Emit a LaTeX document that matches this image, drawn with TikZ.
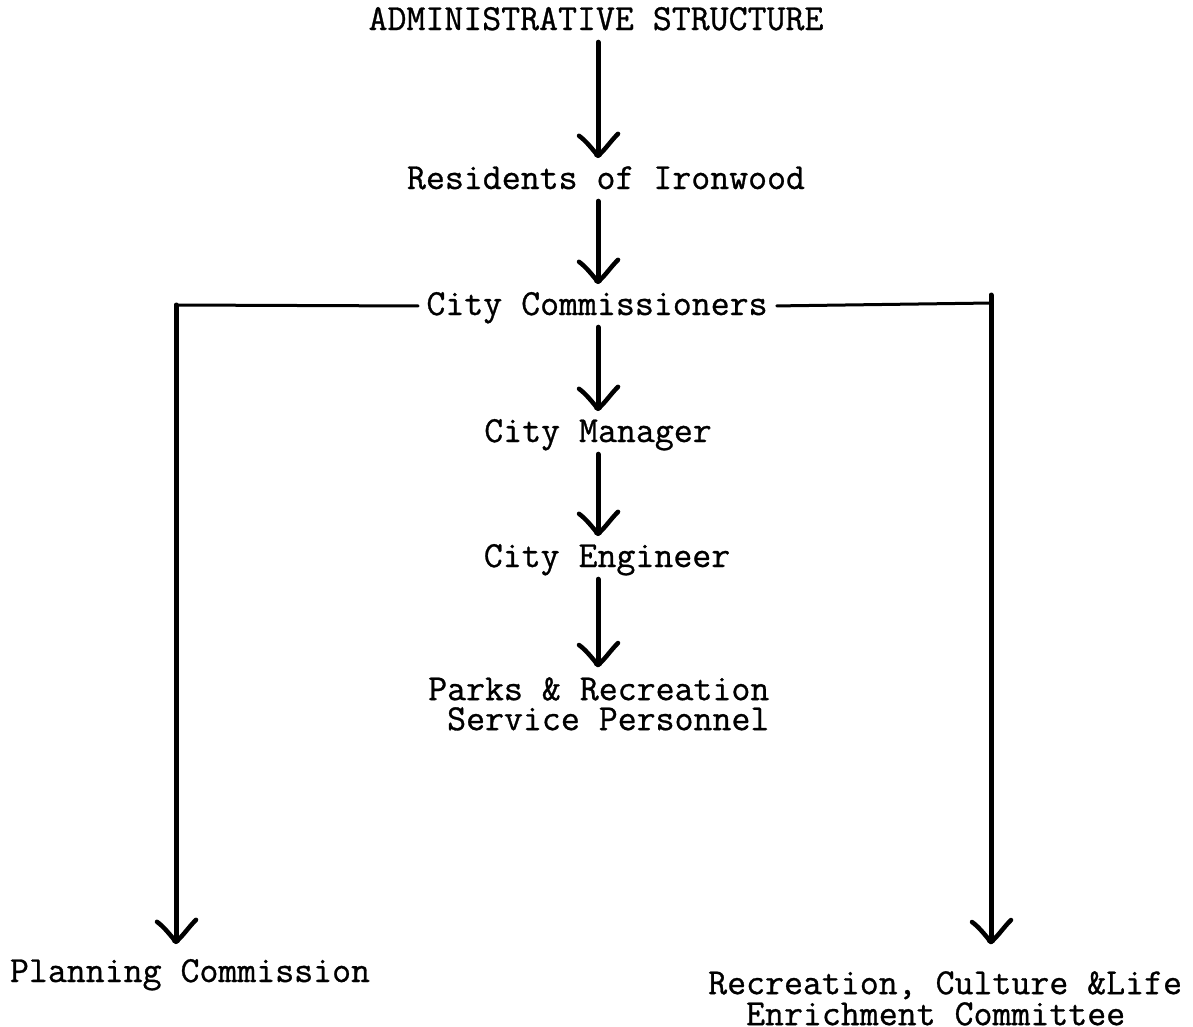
\documentclass[tikz,border=0pt]{standalone}
\usepackage{fontspec}
\usepackage{tikz}
\newfontfamily\tw[FakeBold=0.8]{Latin Modern Mono}

\pgfdeclarearrow{
  name = Foot,
  parameters = {},
  setup code = {
    \pgfarrowssettipend{2pt}
    \pgfarrowssetlineend{-5pt}
    \pgfarrowssetbackend{-24pt}
    \pgfarrowssetvisualbackend{-5pt}
    \pgfarrowshullpoint{2pt}{0pt}
    \pgfarrowshullpoint{-24pt}{22pt}
    \pgfarrowshullpoint{-24pt}{-22pt}
  },
  drawing code = {
    \pgfsetdash{}{0pt}
    \pgfsetroundcap
    \pgfsetroundjoin
    \pgfsetlinewidth{4.5pt}
    \pgfpathmoveto{\pgfqpoint{-21pt}{-19pt}}
    \pgfpathcurveto{\pgfqpoint{-16pt}{-12pt}}{\pgfqpoint{-8pt}{-6pt}}{\pgfqpoint{-1pt}{0pt}}
    \pgfpathcurveto{\pgfqpoint{-8pt}{8pt}}{\pgfqpoint{-15pt}{12pt}}{\pgfqpoint{-23pt}{20pt}}
    \pgfusepathqstroke
    \pgfpathcircle{\pgfqpoint{-3.5pt}{0pt}}{4.5pt}
    \pgfusepathqfill
  }
}

\begin{document}
\begin{tikzpicture}[x=1pt,y=-1pt,
  lbl/.style={font={\tw\fontsize{36.8}{30}\selectfont}, inner sep=4pt,
    text height=26pt, text depth=8pt, anchor=base},
  mlbl/.style={font={\tw\fontsize{36.8}{30}\selectfont}, inner sep=0pt, align=left},
  shaft/.style={line width=5pt, line cap=round, -{Foot}},
  hline/.style={line width=3pt, line cap=round}
]
\path[use as bounding box, fill=white] (0,0) rectangle (1193,1026);

\node[lbl] (title) at (596,30) {ADMINISTRATIVE STRUCTURE};
\node[lbl] (res) at (606,189) {Residents of Ironwood};
\node[lbl] (comm) at (597,315) {City Commissioners};
\node[lbl] (mgr) at (598,442) {City Manager};
\node[lbl] (eng) at (607,567) {City Engineer};
\node[mlbl, inner ysep=9pt, inner xsep=4pt, anchor=north west] (parks) at (424,668)
  {Parks \& Recreation\\\hphantom{X}Service Personnel};
\node[lbl] (plan) at (190,982) {Planning Commission};
\node[mlbl, anchor=north west, font={\tw\fontsize{36.8}{31}\selectfont}] (rec) at (708,971)
  {Recreation, Culture \&Life\\\hphantom{XX}Enrichment Committee};

\coordinate (spine) at (598,0);
\coordinate (lc) at (176,305);
\coordinate (rc) at (991,303);
\coordinate (rtop) at (991,295);

\draw[shaft] (title.south -| spine) -- (res.north -| spine);
\draw[shaft] (res.south -| spine) -- (comm.north -| spine);
\draw[shaft] (comm.south -| spine) -- (mgr.north -| spine);
\draw[shaft] (mgr.south -| spine) -- (eng.north -| spine);
\draw[shaft] (eng.south -| spine) -- (parks.north -| spine);

\draw[hline, shorten <=4pt] (comm.west) -- (lc);
\draw[hline, shorten <=5pt] (comm.east) -- (rc);
\draw[shaft, shorten >=7pt] (lc) -- (lc |- plan.north);
\draw[shaft, shorten >=26pt] (rtop) -- (rtop |- rec.north);
\end{tikzpicture}
\end{document}
